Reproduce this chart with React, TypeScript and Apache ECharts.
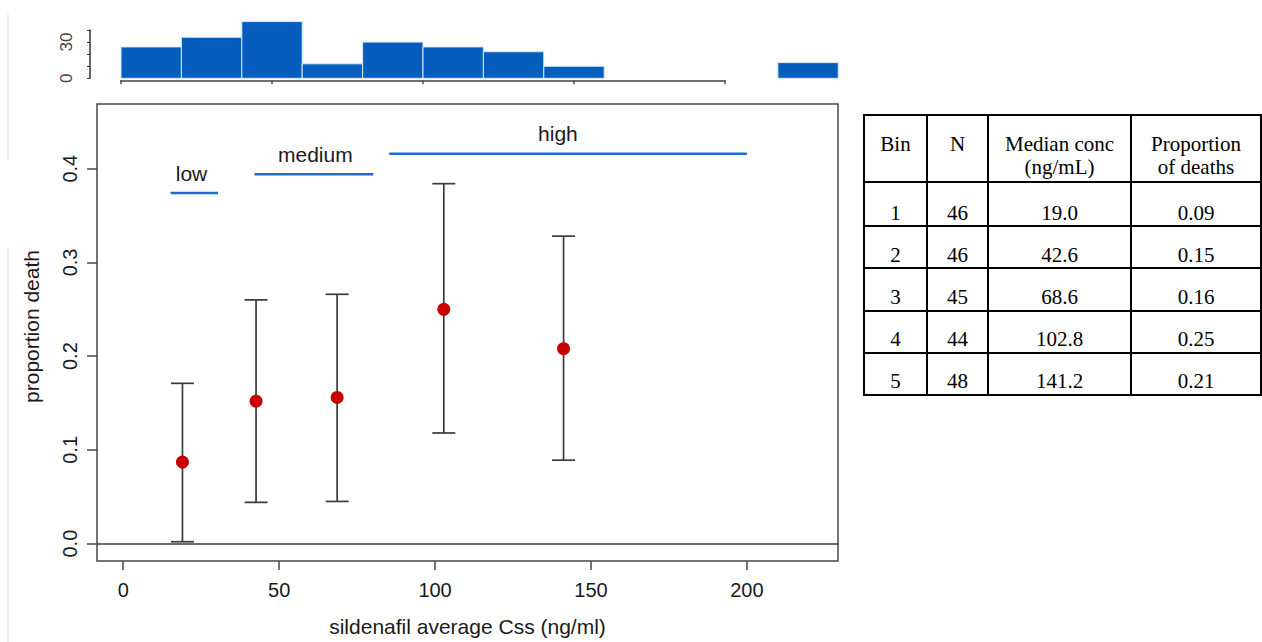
import React, { useEffect, useRef } from "react";
import * as echarts from "echarts";

// ---- main panel data ----
const medianConc = [19.0, 42.6, 68.6, 102.8, 141.2];
const propDeath = [0.087, 0.152, 0.156, 0.25, 0.208];
const ciLower = [0.002, 0.044, 0.045, 0.118, 0.089];
const ciUpper = [0.171, 0.26, 0.266, 0.384, 0.328];

const groupNames = ["low", "medium", "high"];
const groupStart = [15.2, 42.1, 85.3];
const groupEnd = [30.4, 80.2, 200];
const groupLevel = [0.374, 0.394, 0.416];
const groupLabelX = [21.9, 61.6, 139.4];

const xTicks = [0, 50, 100, 150, 200];
const yTicks = [0, 0.1, 0.2, 0.3, 0.4];

// ---- histogram data ----
const histStart = [0, 20, 40, 60, 80, 100, 120, 140, 217.5];
const histEnd = [20, 40, 60, 80, 100, 120, 140, 160, 237.5];
const histCount = [26, 34, 47, 12, 30, 26, 22, 10, 13];
const histXTicks = [0, 50, 100, 150, 200];
const histYTicks = [0, 10, 20, 30, 40];
const histYLabels = [0, 30];

// ---- table data ----
const tableHeader = [["Bin"], ["N"], ["Median conc", "(ng/mL)"], ["Proportion", "of deaths"]];
const tableBin = ["1", "2", "3", "4", "5"];
const tableN = ["46", "46", "45", "44", "48"];
const tableMedian = ["19.0", "42.6", "68.6", "102.8", "141.2"];
const tableProp = ["0.09", "0.15", "0.16", "0.25", "0.21"];

const SANS = '"Liberation Sans", Arial, sans-serif';
const SERIF = '"Liberation Serif", "Times New Roman", serif';
const AXIS_COL = "#474747";
const TEXT_COL = "#1a1a1a";

function buildTable(): any[] {
  const colX = [864, 927, 988, 1131, 1261];
  const rowY = [115, 182, 226, 268, 311, 353, 395];
  const headerY = [144, 167];
  const rowTextY = [213, 255, 297, 339, 381];
  const els: any[] = [];
  rowY.forEach((y) =>
    els.push({ type: "line", shape: { x1: colX[0] - 1, y1: y, x2: colX[colX.length - 1] + 1, y2: y }, style: { stroke: "#000", lineWidth: 2 } })
  );
  colX.forEach((x) =>
    els.push({ type: "line", shape: { x1: x, y1: rowY[0], x2: x, y2: rowY[rowY.length - 1] }, style: { stroke: "#000", lineWidth: 2 } })
  );
  const txt = (text: string, x: number, y: number) => ({
    type: "text",
    x,
    y,
    style: {
      text,
      fill: "#000",
      fontSize: 21,
      fontFamily: SERIF,
      align: "center",
      verticalAlign: "middle",
      textAlign: "center",
      textVerticalAlign: "middle",
    },
  });
  tableHeader.forEach((lines, c) => {
    const cx = (colX[c] + colX[c + 1]) / 2;
    lines.forEach((t, i) => els.push(txt(t, cx, headerY[i])));
  });
  const cols = [tableBin, tableN, tableMedian, tableProp];
  cols.forEach((col, c) => {
    const cx = (colX[c] + colX[c + 1]) / 2;
    col.forEach((t, r) => els.push(txt(t, cx, rowTextY[r])));
  });
  return els;
}

export default function App() {
  const ref = useRef<HTMLDivElement>(null);
  useEffect(() => {
    if (!ref.current) return;
    const chart = echarts.init(ref.current, undefined, { renderer: "svg" });
    const option: any = {
      animation: false,
      backgroundColor: "#fff",
      grid: [
        { left: 97, top: 104, width: 741, height: 458, show: true, borderColor: AXIS_COL, borderWidth: 1.5, backgroundColor: "transparent" },
        { left: 121, top: 30, width: 604, height: 48.3, show: false },
      ],
      xAxis: [
        {
          gridIndex: 0,
          type: "value",
          min: -8.4,
          max: 229.2,
          axisLine: { show: false, onZero: false },
          axisTick: { show: true, customValues: xTicks, length: 9, lineStyle: { color: AXIS_COL, width: 1.5 } },
          axisLabel: { show: true, customValues: xTicks, margin: 19, fontSize: 20, color: TEXT_COL, fontFamily: SANS },
          splitLine: { show: false },
          name: "sildenafil average Css (ng/ml)",
          nameLocation: "middle",
          nameGap: 55,
          nameTextStyle: { fontSize: 21, color: TEXT_COL, fontFamily: SANS },
        },
        {
          gridIndex: 1,
          type: "value",
          min: 0,
          max: 200,
          offset: 2,
          axisLine: { show: true, onZero: false, lineStyle: { color: "#707070", width: 2 } },
          axisTick: { show: true, customValues: histXTicks, length: 4, lineStyle: { color: "#555", width: 1.5 } },
          axisLabel: { show: false },
          splitLine: { show: false },
        },
      ],
      yAxis: [
        {
          gridIndex: 0,
          type: "value",
          min: -0.01855,
          max: 0.469,
          axisLine: { show: false, onZero: false },
          axisTick: { show: true, customValues: yTicks, length: 10, lineStyle: { color: AXIS_COL, width: 1.5 } },
          axisLabel: {
            show: true,
            customValues: yTicks,
            rotate: 90,
            margin: 17,
            fontSize: 20,
            color: TEXT_COL,
            fontFamily: SANS,
            formatter: (v: number) => v.toFixed(1),
          },
          splitLine: { show: false },
          name: "proportion death",
          nameLocation: "middle",
          nameRotate: 90,
          nameGap: 55,
          nameTextStyle: { fontSize: 21, color: TEXT_COL, fontFamily: SANS, padding: [0, 0, 0, 12] },
        },
        {
          gridIndex: 1,
          type: "value",
          min: 0,
          max: 40,
          offset: 31,
          axisLine: { show: true, onZero: false, lineStyle: { color: "#333", width: 1.5 } },
          axisTick: { show: true, customValues: histYTicks, length: 3, lineStyle: { color: "#333", width: 1 } },
          axisLabel: { show: true, customValues: histYLabels, rotate: 90, margin: 15, fontSize: 17, color: "#444", fontFamily: SANS },
          splitLine: { show: false },
        },
      ],
      series: [
        {
          type: "custom",
          xAxisIndex: 1,
          yAxisIndex: 1,
          clip: false,
          encode: { x: [0, 1], y: 2 },
          data: histCount.map((c, i) => [histStart[i], histEnd[i], c]),
          renderItem: (params: any, api: any) => {
            const p0 = api.coord([api.value(0), api.value(2)]);
            const p1 = api.coord([api.value(1), 0]);
            return {
              type: "rect",
              shape: { x: p0[0], y: p0[1], width: p1[0] - p0[0], height: p1[1] - p0[1] },
              style: { fill: "#055EBE", stroke: "#dce8f7", lineWidth: 1 },
            };
          },
        },
        {
          type: "custom",
          xAxisIndex: 0,
          yAxisIndex: 0,
          encode: { x: 0, y: [1, 2] },
          data: medianConc.map((x, i) => [x, ciLower[i], ciUpper[i]]),
          renderItem: (params: any, api: any) => {
            const lo = api.coord([api.value(0), api.value(1)]);
            const hi = api.coord([api.value(0), api.value(2)]);
            const hw = 11.5;
            const st = { stroke: "#3a3a3a", lineWidth: 1.7 };
            return {
              type: "group",
              children: [
                { type: "line", shape: { x1: lo[0], y1: lo[1], x2: hi[0], y2: hi[1] }, style: st },
                { type: "line", shape: { x1: lo[0] - hw, y1: lo[1], x2: lo[0] + hw, y2: lo[1] }, style: st },
                { type: "line", shape: { x1: hi[0] - hw, y1: hi[1], x2: hi[0] + hw, y2: hi[1] }, style: st },
              ],
            };
          },
        },
        {
          type: "scatter",
          xAxisIndex: 0,
          yAxisIndex: 0,
          symbol: "circle",
          symbolSize: 13,
          itemStyle: { color: "#C80000", opacity: 1 },
          data: medianConc.map((x, i) => [x, propDeath[i]]),
          z: 5,
          markLine: {
            silent: true,
            symbol: ["none", "none"],
            label: { show: false },
            lineStyle: { color: "#3a3a3a", width: 1.7, type: "solid" },
            data: [{ yAxis: 0 }],
          },
        },
        {
          type: "custom",
          xAxisIndex: 0,
          yAxisIndex: 0,
          encode: { x: [0, 1], y: 2 },
          data: groupNames.map((n, i) => [groupStart[i], groupEnd[i], groupLevel[i], groupLabelX[i]]),
          renderItem: (params: any, api: any) => {
            const a = api.coord([api.value(0), api.value(2)]);
            const b = api.coord([api.value(1), api.value(2)]);
            const t = api.coord([api.value(3), api.value(2)]);
            return {
              type: "group",
              children: [
                { type: "line", shape: { x1: a[0], y1: a[1], x2: b[0], y2: b[1] }, style: { stroke: "#1C6DD0", lineWidth: 2.5 } },
                {
                  type: "text",
                  x: t[0],
                  y: t[1] - 20,
                  style: {
                    text: groupNames[params.dataIndex],
                    fill: TEXT_COL,
                    fontSize: 21,
                    fontFamily: SANS,
                    align: "center",
                    verticalAlign: "middle",
                  },
                },
              ],
            };
          },
        },
      ],
      graphic: [
        { type: "line", shape: { x1: 8, y1: 14, x2: 8, y2: 160 }, style: { stroke: "#e2e2e2", lineWidth: 1 } },
        { type: "line", shape: { x1: 8, y1: 248, x2: 8, y2: 642 }, style: { stroke: "#e2e2e2", lineWidth: 1 } },
        ...buildTable(),
      ],
    };
    chart.setOption(option);
    return () => chart.dispose();
  }, []);
  return <div ref={ref} style={{ position: "fixed", left: 0, top: 0, width: 1262, height: 642 }} />;
}
